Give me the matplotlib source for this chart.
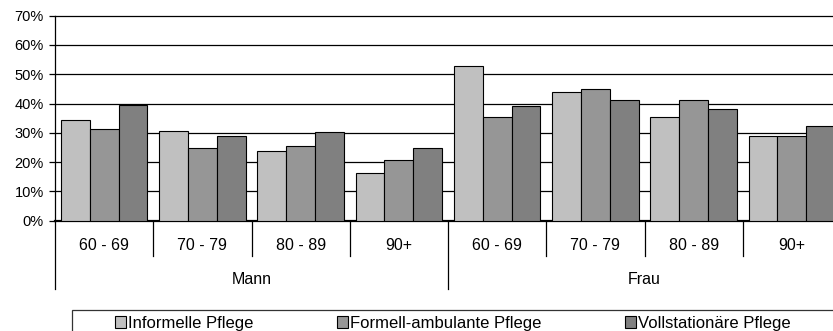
import matplotlib
matplotlib.use("Agg")
import matplotlib.pyplot as plt
from matplotlib.patches import Patch, Rectangle
from matplotlib.transforms import blended_transform_factory
import numpy as np

plt.rcParams['font.family'] = ['Liberation Sans', 'DejaVu Sans']

genders = ["Mann", "Frau"]
age_groups = ["60 - 69", "70 - 79", "80 - 89", "90+"]
series_names = ["Informelle Pflege", "Formell-ambulante Pflege", "Vollstationäre Pflege"]
informelle = [34.5, 30.6, 23.7, 16.2, 52.9, 43.8, 35.3, 28.8]
formell = [31.2, 24.7, 25.6, 20.8, 35.3, 44.9, 41.1, 28.8]
voll = [39.5, 28.8, 30.2, 24.7, 39.1, 41.1, 38.0, 32.4]
y_ticks = [0, 10, 20, 30, 40, 50, 60, 70]

colors = ["#C0C0C0", "#969696", "#808080"]

W, H = 833, 331
fig = plt.figure(figsize=(W / 100, H / 100), dpi=100)
ax_left, ax_right, ax_top, ax_bot = 55, 841, 15.7, 220.7
ax = fig.add_axes([ax_left / W, 1 - ax_bot / H, (ax_right - ax_left) / W, (ax_bot - ax_top) / H])

n = len(genders) * len(age_groups)
x = np.arange(n)
bw = 0.293
for k, (vals, c, name) in enumerate(zip([informelle, formell, voll], colors, series_names)):
    ax.bar(x + (k - 1) * bw, vals, width=bw, color=c, edgecolor="black", linewidth=0.8,
           zorder=3, label=name)

ax.set_xlim(-0.5, n - 0.5)
ax.set_ylim(0, 70)
ax.set_yticks(y_ticks)
ax.set_yticklabels([f"{v}%" for v in y_ticks], fontsize=10.5)
ax.tick_params(axis='y', length=4, width=0.9, direction='out', pad=4)
ax.set_xticks([])
for v in y_ticks[1:-1]:
    ax.axhline(v, color="black", linewidth=0.9, zorder=1)
for s in ["right"]:
    ax.spines[s].set_visible(False)
ax.spines["top"].set_linewidth(0.9)
ax.spines["left"].set_linewidth(0.9)
ax.spines["bottom"].set_linewidth(1.6)

# hierarchical x-axis
axh = ax_bot - ax_top
tr = blended_transform_factory(ax.transData, ax.transAxes)
short_y = -(255.7 - ax_bot) / axh
long_y = -(289.3 - ax_bot) / axh
lab_y = -(245 - ax_bot) / axh
glab_y = -(280 - ax_bot) / axh
na = len(age_groups)
for i in range(n + 1):
    xb = i - 0.5
    yb = long_y if i % na == 0 else short_y
    ax.plot([xb, xb], [0, yb], transform=tr, color="black", linewidth=0.9, clip_on=False)
for i in range(n):
    ax.text(i, lab_y, age_groups[i % na], transform=tr, ha="center", va="center", fontsize=11.5)
for g, gname in enumerate(genders):
    ax.text(g * na + (na - 1) / 2, glab_y, gname, transform=tr, ha="center", va="center", fontsize=11.5)

# legend
handles = [Patch(facecolor=c, edgecolor="black", linewidth=0.8) for c in colors]
leg = fig.legend(handles, series_names, loc="center left", ncol=3,
                 bbox_to_anchor=(115 / W, 1 - 323.3 / H), frameon=False, fontsize=12,
                 borderpad=0, borderaxespad=0, handlelength=0.65, handleheight=0.65,
                 handletextpad=0.15, columnspacing=5.0)
fig.add_artist(Rectangle((71.7 / W, 1 - 340 / H), (900 - 71.7) / W, (340 - 310) / H,
                         transform=fig.transFigure, fill=False, edgecolor="#333333", linewidth=0.9))

fig.savefig("out.png", dpi=100)
